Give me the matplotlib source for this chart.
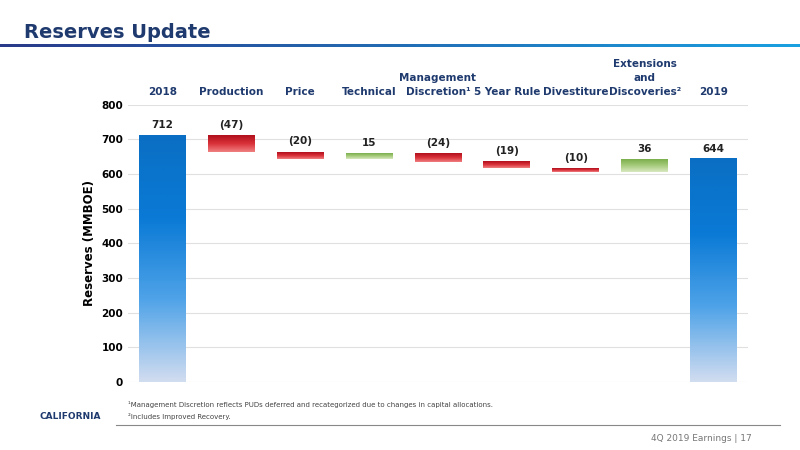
import numpy as np
import matplotlib.pyplot as plt
from matplotlib.colors import LinearSegmentedColormap

categories = ['2018', 'Production', 'Price', 'Technical', 'Management\nDiscretion¹',
              '5 Year Rule', 'Divestiture', 'Extensions\nand\nDiscoveries²', '2019']
changes = [712, -47, -20, 15, -24, -19, -10, 36, 644]
labels = ['712', '(47)', '(20)', '15', '(24)', '(19)', '(10)', '36', '644']

fig = plt.figure(figsize=(8, 4.5), dpi=100)
ax = fig.add_axes([0.16, 0.151, 0.775, 0.616])

blue = LinearSegmentedColormap.from_list('b', ['#d0dcf0', '#4fa3e8', '#0a7ad6', '#0a6fc4'])
red = LinearSegmentedColormap.from_list('r', ['#f08080', '#d9313a', '#b0101c'])
green = LinearSegmentedColormap.from_list('g', ['#d8e8c0', '#a8cc7c', '#7aae4c'])

w = 0.68
level = 0
for i, v in enumerate(changes):
    if i == 0 or i == len(changes) - 1:
        lo, hi, cm = 0, v, blue
        level = v
    else:
        lo, hi = (level + v, level) if v < 0 else (level, level + v)
        cm = red if v < 0 else green
        level += v
    grad = np.linspace(0, 1, 100).reshape(-1, 1)
    ax.imshow(grad, extent=(i - w / 2, i + w / 2, lo, hi), origin='lower',
              cmap=cm, aspect='auto', zorder=2)
    ax.text(i, hi + 15, labels[i], ha='center', va='bottom', fontsize=7.5,
            fontweight='bold', color='#222222')
    fig.text(0.16 + 0.775 * (i + 0.5) / 9, 0.785, categories[i], ha='center', va='bottom',
             fontsize=7.5, fontweight='bold', color='#1f3a6e', linespacing=1.5)

ax.set_xlim(-0.5, 8.5)
ax.set_ylim(0, 800)
ax.set_yticks(range(0, 801, 100))
ax.set_xticks([])
ax.tick_params(axis='y', length=0, labelsize=7.5)
for t in ax.get_yticklabels():
    t.set_fontweight('bold')
ax.grid(axis='y', color='#e0e0e0', lw=0.8, zorder=0)
for s in ax.spines.values():
    s.set_visible(False)
ax.set_ylabel('Reserves (MMBOE)', fontsize=8.5, fontweight='bold')

fig.text(0.03, 0.915, 'Reserves Update', fontsize=14, fontweight='bold', color='#1f3a6e')
bar = fig.add_axes([0, 0.895, 1, 0.008])
bar.imshow(np.linspace(0, 1, 200).reshape(1, -1), aspect='auto',
           cmap=LinearSegmentedColormap.from_list('h', ['#2a3a8a', '#1aa0e0']))
bar.axis('off')

fig.text(0.16, 0.095, '¹Management Discretion reflects PUDs deferred and recategorized due to changes in capital allocations.',
         fontsize=5, color='#444444')
fig.text(0.16, 0.068, '²Includes Improved Recovery.', fontsize=5, color='#444444')
fig.add_artist(plt.Line2D([0.145, 0.975], [0.055, 0.055], color='#888888', lw=0.8))
fig.text(0.05, 0.068, 'CALIFORNIA', fontsize=6.5, fontweight='bold', color='#1f3a6e')
fig.text(0.94, 0.02, '4Q 2019 Earnings | 17', fontsize=6.5, color='#777777', ha='right')

fig.savefig('out.png')
